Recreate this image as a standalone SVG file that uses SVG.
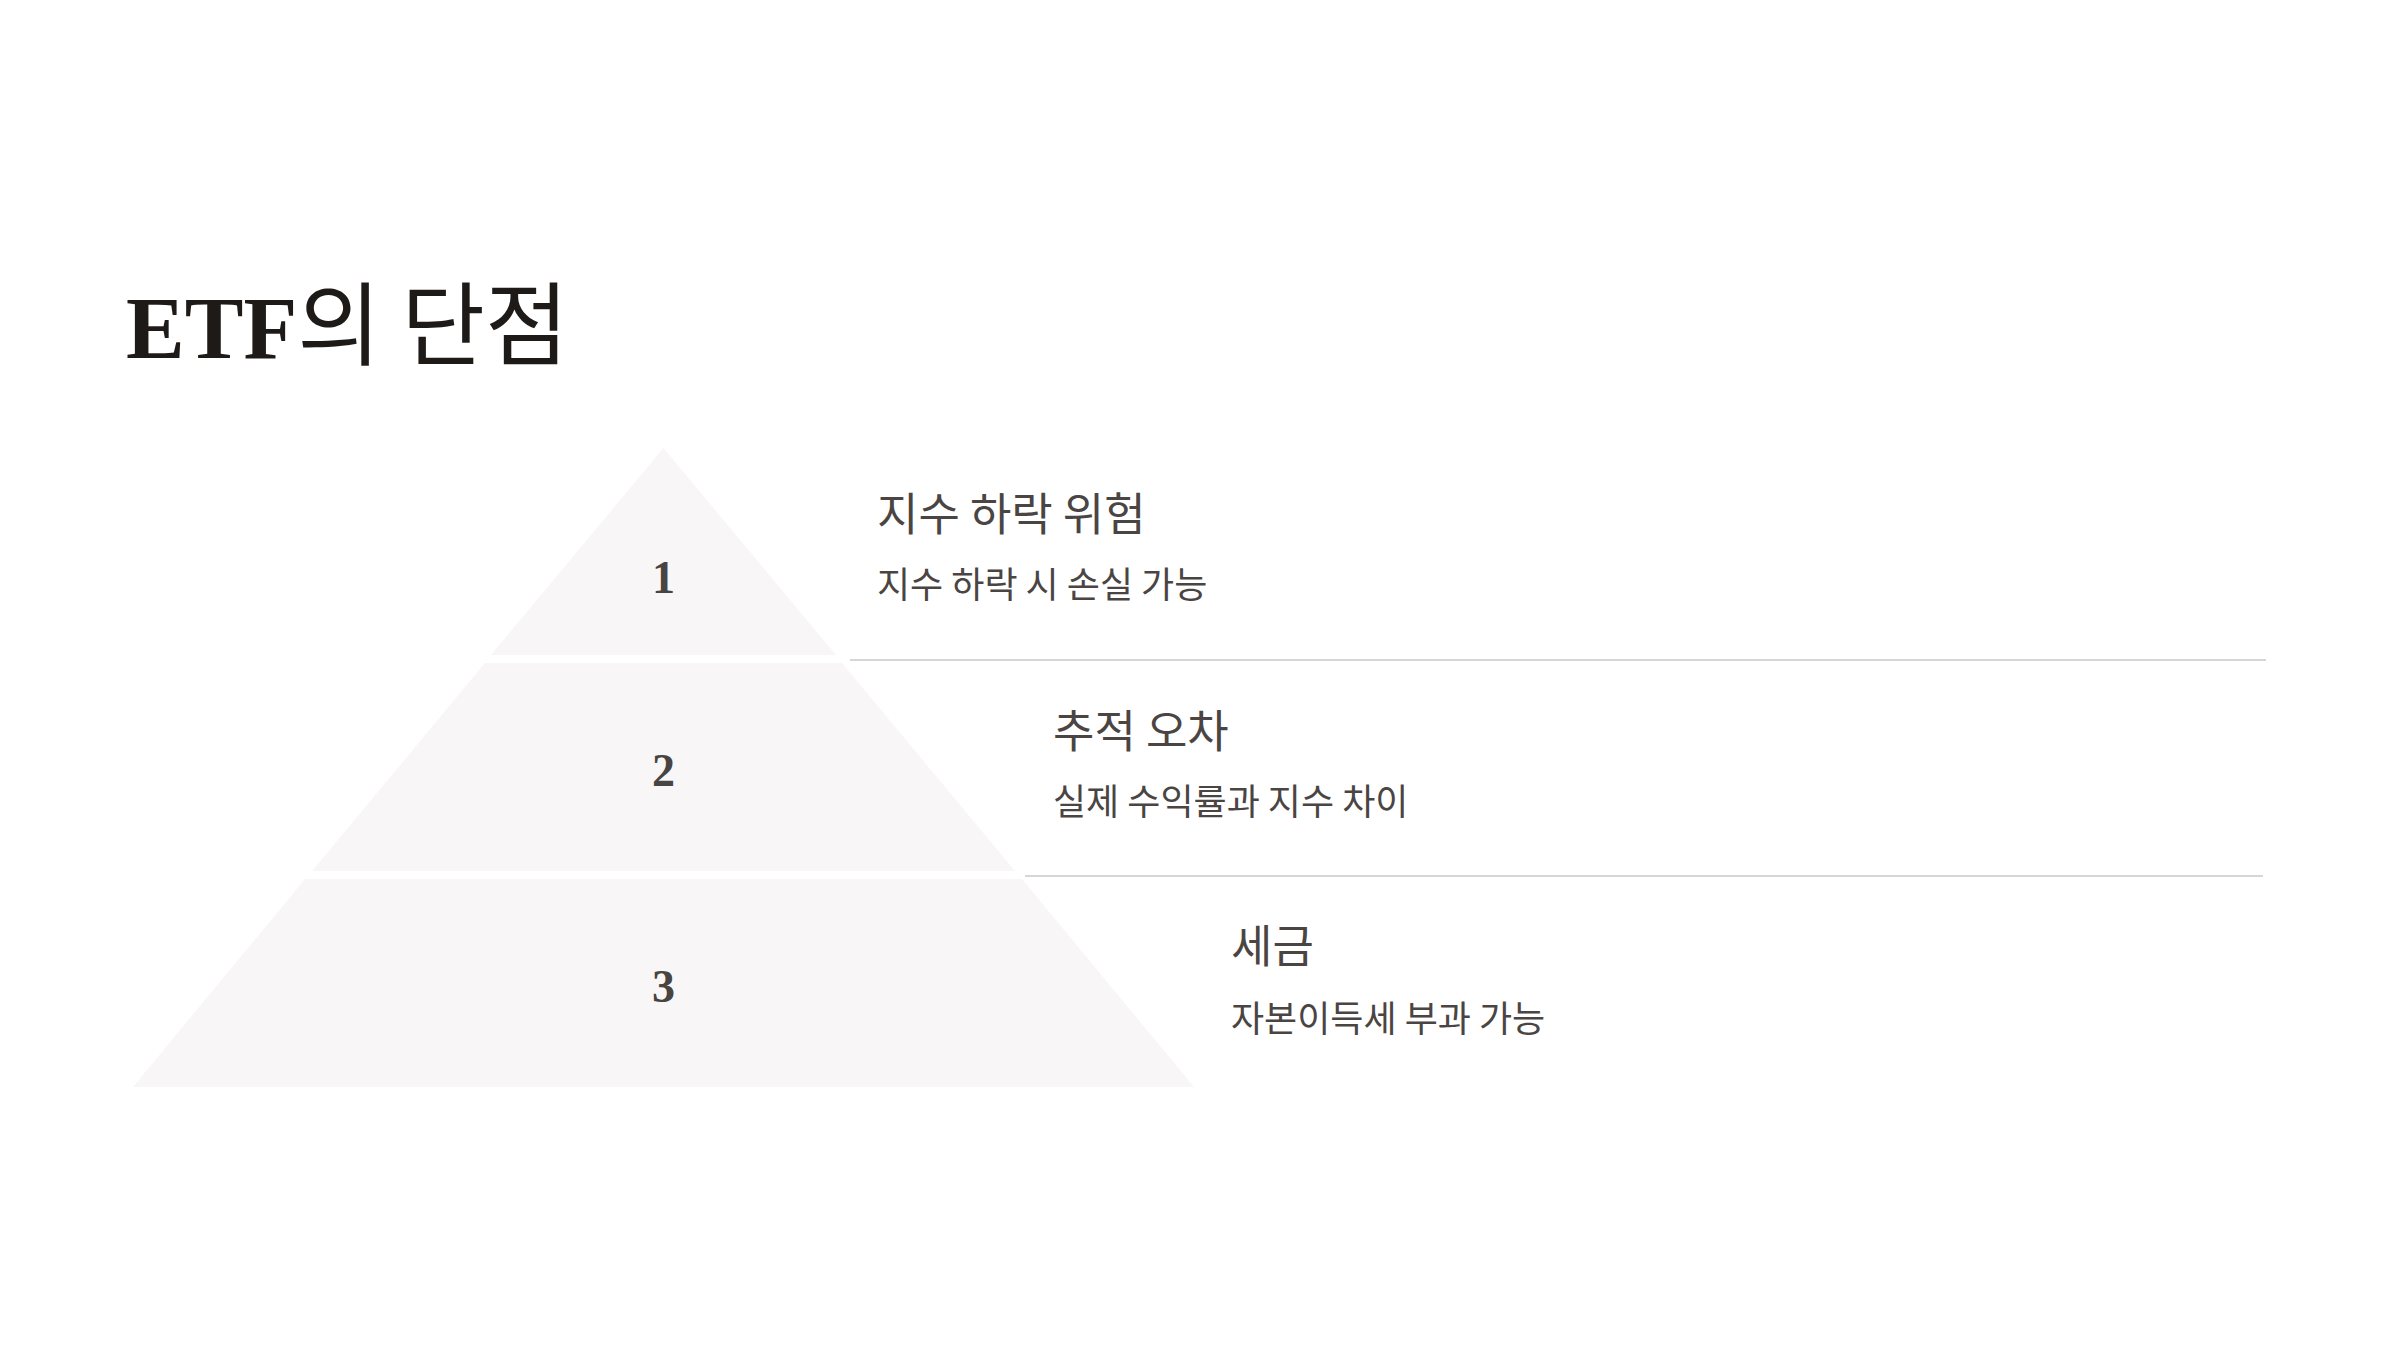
<svg xmlns="http://www.w3.org/2000/svg" width="2400" height="1350" viewBox="0 0 2400 1350">
  <style>
    .tier { fill: #f8f6f6; }
    .num { font-family: "Liberation Serif", serif; font-weight: bold; font-size: 46px; fill: #484442; text-anchor: middle; }
    .head { font-family: "Noto Sans CJK KR", sans-serif; font-size: 45px; fill: #4a4543; }
    .sub { font-family: "Noto Sans CJK KR", sans-serif; font-size: 36px; fill: #4a4543; }
    .rule { stroke: #d9d5d5; stroke-width: 2; }
  </style>
  <rect width="2400" height="1350" fill="#ffffff"/>
  <text id="title" x="126" y="358" font-size="88" fill="#1e1a17" font-family="Liberation Serif, serif" font-weight="bold">ETF<tspan font-family="Noto Sans CJK KR, sans-serif" font-weight="normal" font-size="91">의 단점</tspan></text>
  <g id="connectors">
    <line class="rule" x1="850" y1="660" x2="2266" y2="660"/>
    <line class="rule" x1="1025" y1="876" x2="2263" y2="876"/>
  </g>
  <g id="tier1">
    <polygon class="tier" points="663.5,448 836,655 491,655"/>
    <text class="num" x="663.5" y="593">1</text>
    <text class="head" x="877" y="531">지수 하락 위험</text>
    <text class="sub" x="877" y="598">지수 하락 시 손실 가능</text>
  </g>
  <g id="tier2">
    <polygon class="tier" points="485,663 842,663 1015,871 312,871"/>
    <text class="num" x="663.5" y="786">2</text>
    <text class="head" x="1053" y="748">추적 오차</text>
    <text class="sub" x="1053" y="815">실제 수익률과 지수 차이</text>
  </g>
  <g id="tier3">
    <polygon class="tier" points="305,879 1022,879 1194,1087 133,1087"/>
    <text class="num" x="663.5" y="1002">3</text>
    <text class="head" x="1231" y="963">세금</text>
    <text class="sub" x="1231" y="1032">자본이득세 부과 가능</text>
  </g>
</svg>
